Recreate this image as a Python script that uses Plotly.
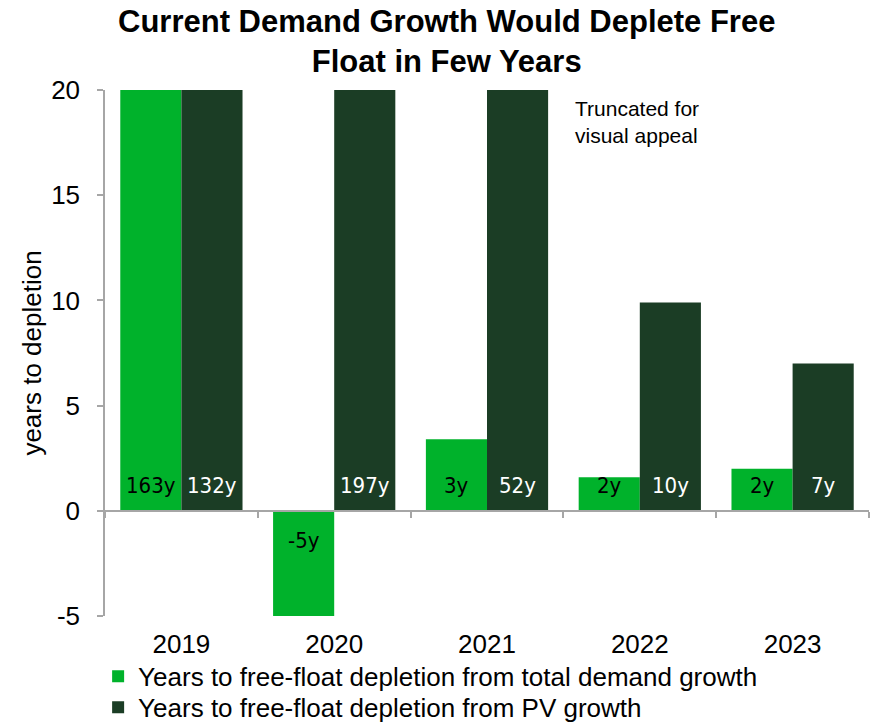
import plotly.graph_objects as go

years = ["2019", "2020", "2021", "2022", "2023"]
# years to free-float depletion (actual values; bars are capped at the axis top)
total_demand_years = [163, -5, 3.4, 1.6, 2.0]
pv_growth_years = [132, 197, 52, 9.9, 7.0]
cap = 20

y_ticks = [-5, 0, 5, 10, 15, 20]
y_tick_text = ["-5", "0", "5", "10", "15", "20"]

series_names = [
    "Years to free-float depletion from total demand growth",
    "Years to free-float depletion from PV growth",
]
colors = ["#00B22B", "#1B3D25"]
label_colors = ["black", "white"]
legends = ["legend", "legend2"]

bargap = 0.2
n_series = 2
bar_w = (1 - bargap) / n_series

fig = go.Figure()
annotations = []
for k, (name, vals, col, lc, lg) in enumerate(
        zip(series_names, [total_demand_years, pv_growth_years], colors, label_colors, legends)):
    fig.add_trace(go.Bar(
        x=years,
        y=[min(v, cap) for v in vals],
        name=name,
        legend=lg,
        marker=dict(color=col, line=dict(width=0)),
    ))
    # value labels just inside the base of each bar
    offset = -(1 - bargap) / 2 + bar_w * (k + 0.5)
    for i, v in enumerate(vals):
        annotations.append(dict(
            text=f"{round(v)}y", xref="x2", yref="y",
            x=i + offset, y=0, xanchor="center", yanchor="middle",
            yshift=25 if v >= 0 else -30, showarrow=False,
            font=dict(family="DejaVu Sans Condensed, sans-serif", size=22, color=lc),
        ))

# axis line drawn through zero with boundary ticks
fig.add_trace(go.Scatter(x=[None], y=[None], xaxis="x2", showlegend=False))

axis_gray = "#A6A6A6"
font_main = "Liberation Sans, Arial, sans-serif"

annotations += [
    dict(
        text="<b>Current Demand Growth Would Deplete Free<br>Float in Few Years</b>",
        xref="paper", yref="paper", x=0.447, y=1.168, xanchor="center", yanchor="top",
        showarrow=False, align="center",
        font=dict(family=font_main, size=31, color="black"),
    ),
    dict(
        text="Truncated for<br>visual appeal", xref="paper", yref="paper",
        x=0.612, y=0.99, xanchor="left", yanchor="top", align="left", showarrow=False,
        font=dict(family=font_main, size=21, color="black"),
    ),
]

legend_style = dict(
    orientation="v", x=-0.009, xanchor="left", yanchor="top",
    font=dict(size=26, color="black"), itemwidth=30,
    bgcolor="rgba(0,0,0,0)",
)

fig.update_layout(
    width=875, height=722,
    margin=dict(l=105, r=6, t=90, b=106, autoexpand=False),
    paper_bgcolor="white", plot_bgcolor="white",
    barmode="group", bargap=bargap, bargroupgap=0,
    font=dict(family=font_main, size=26, color="black"),
    xaxis=dict(
        type="category", range=[-0.5, 4.5],
        showline=False, ticks="", showgrid=False, zeroline=False,
        ticklabelstandoff=10,
        tickfont=dict(size=26, color="black"),
    ),
    xaxis2=dict(
        type="linear", overlaying="x", anchor="free", position=0.2,
        range=[-0.5, 4.5], showgrid=False, zeroline=False,
        showline=True, linecolor=axis_gray, linewidth=1.5,
        tickvals=[-0.5, 0.5, 1.5, 2.5, 3.5, 4.5], ticks="outside",
        ticklen=6, tickcolor=axis_gray, tickwidth=1.5, showticklabels=False,
    ),
    yaxis=dict(
        range=[-5, 20], tickvals=y_ticks, ticktext=y_tick_text,
        showgrid=False, zeroline=False,
        showline=True, linecolor=axis_gray, linewidth=1.5,
        ticks="outside", ticklen=6, tickcolor=axis_gray, tickwidth=1.5,
        ticklabelstandoff=12,
        tickfont=dict(size=26, color="black"),
        title=dict(text="years to depletion", font=dict(size=26, color="black"), standoff=2),
    ),
    legend=dict(y=-0.07, **legend_style),
    legend2=dict(y=-0.129, **legend_style),
    annotations=annotations,
)

fig.write_html("out.html")
